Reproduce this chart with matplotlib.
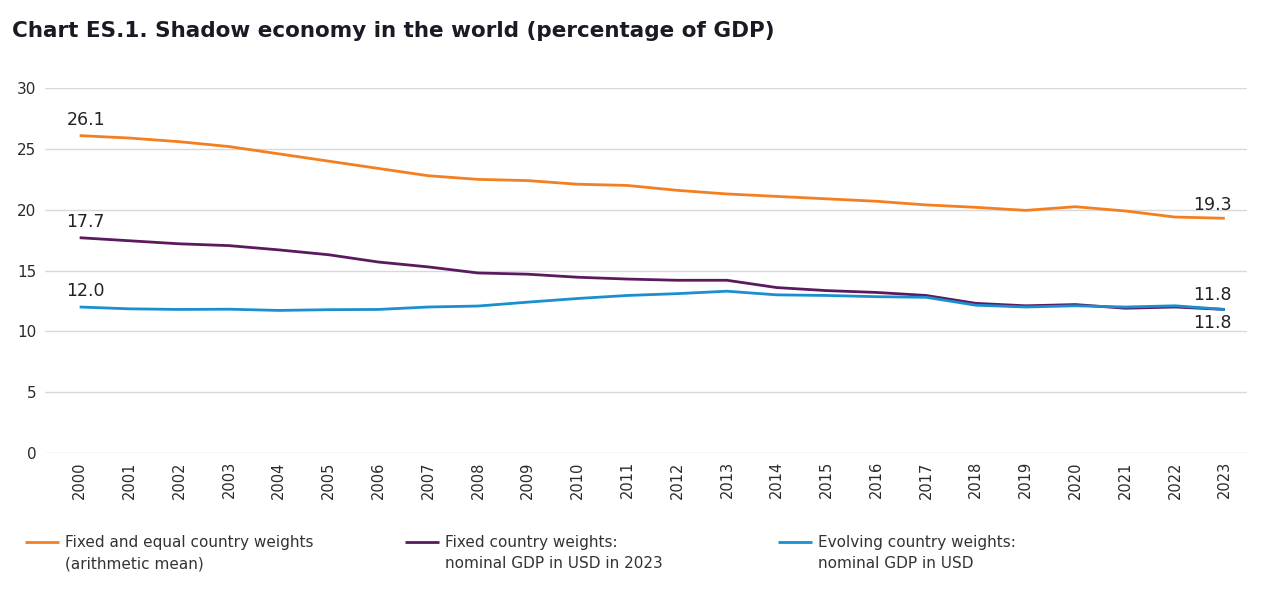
import matplotlib
matplotlib.use("Agg")
import matplotlib.pyplot as plt

years = list(range(2000, 2024))
year_labels = [str(y) for y in years]

fixed_equal = [26.1, 25.9, 25.6, 25.2, 24.6, 24.0, 23.4, 22.8, 22.5, 22.4, 22.1, 22.0,
               21.6, 21.3, 21.1, 20.9, 20.7, 20.4, 20.2, 19.95, 20.25, 19.9, 19.4, 19.3]
fixed_gdp = [17.7, 17.45, 17.2, 17.05, 16.7, 16.3, 15.7, 15.3, 14.8, 14.7, 14.45, 14.3,
             14.2, 14.2, 13.6, 13.35, 13.2, 12.95, 12.3, 12.1, 12.2, 11.9, 12.0, 11.8]
evolving_gdp = [12.0, 11.85, 11.8, 11.82, 11.72, 11.78, 11.8, 12.0, 12.08, 12.4, 12.7, 12.95,
                13.1, 13.3, 13.0, 12.95, 12.85, 12.8, 12.15, 12.0, 12.1, 12.0, 12.1, 11.8]

series_first = ["Fixed and equal country weights",
                "Fixed country weights:",
                "Evolving country weights:"]
series_second = ["(arithmetic mean)",
                 "nominal GDP in USD in 2023",
                 "nominal GDP in USD"]
colors = ["#F47F20", "#5B1A5E", "#1A8FCF"]

title = "Chart ES.1. Shadow economy in the world (percentage of GDP)"

plt.rcParams['font.family'] = ['DejaVu Sans']
fig = plt.figure(figsize=(12.8, 5.92), dpi=100)
ax = fig.add_axes([0.035, 0.235, 0.939, 0.616])

x = list(range(len(years)))
lines = []
for vals, c in zip([fixed_equal, fixed_gdp, evolving_gdp], colors):
    ln, = ax.plot(x, vals, color=c, lw=2.0, solid_capstyle='butt')
    lines.append(ln)

ax.set_xlim(-0.7, 23.44)
ax.set_ylim(0, 30)
ax.set_yticks([0, 5, 10, 15, 20, 25, 30])
ax.yaxis.grid(True, color="#D9D9D9", lw=1.0)
ax.set_axisbelow(True)
for s in ax.spines.values():
    s.set_visible(False)
ax.tick_params(axis='y', length=0, pad=6, labelsize=11, labelcolor="#2a2a2a")
ax.set_xticks(x)
ax.set_xticklabels(year_labels, rotation=90, fontsize=10.5, color="#2a2a2a")
ax.tick_params(axis='x', length=0, pad=6)

lab_kw = dict(textcoords="offset points", fontsize=12.5, color="#222222")
ax.annotate(f"{fixed_equal[0]:.1f}", (x[0], fixed_equal[0]), xytext=(-9, 5), ha='left', va='bottom', **lab_kw)
ax.annotate(f"{fixed_gdp[0]:.1f}", (x[0], fixed_gdp[0]), xytext=(-10, 5), ha='left', va='bottom', **lab_kw)
ax.annotate(f"{evolving_gdp[0]:.1f}", (x[0], evolving_gdp[0]), xytext=(-10, 5), ha='left', va='bottom', **lab_kw)
ax.annotate(f"{fixed_equal[-1]:.1f}", (x[-1], fixed_equal[-1]), xytext=(5, 3), ha='right', va='bottom', **lab_kw)
ax.annotate(f"{fixed_gdp[-1]:.1f}", (x[-1], fixed_gdp[-1]), xytext=(5, 4), ha='right', va='bottom', **lab_kw)
ax.annotate(f"{evolving_gdp[-1]:.1f}", (x[-1], evolving_gdp[-1]), xytext=(5, -3), ha='right', va='top', **lab_kw)

fig.text(12/1280, 1 - 31/592, title, fontsize=15.5, fontweight='bold', color="#1a1a24",
         ha='left', va='center')

leg_x = [25/1280, 405/1280, 778/1280]
text_x = [65/1280, 445/1280, 818/1280]
for ln, first, second, lx, tx in zip(lines, series_first, series_second, leg_x, text_x):
    fig.legend([ln], [first], loc='center left', bbox_to_anchor=(lx, 1 - 543/592),
               frameon=False, fontsize=11, handlelength=2.2, handletextpad=0.4,
               borderaxespad=0, borderpad=0, labelcolor="#333333")
    fig.text(tx, 1 - 564/592, second, fontsize=11, color="#333333", ha='left', va='center')

fig.savefig("out.png", dpi=100, facecolor="white")
